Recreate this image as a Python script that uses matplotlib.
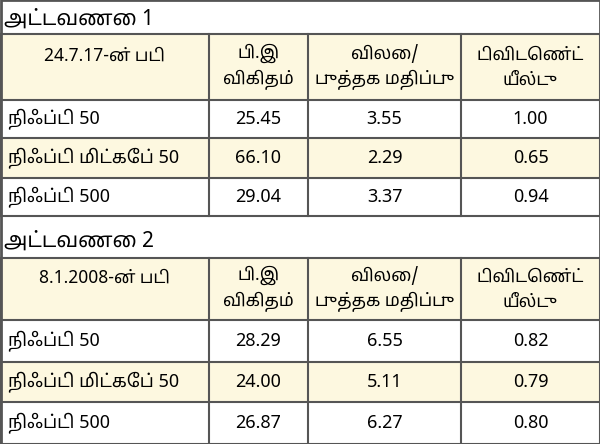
import matplotlib
matplotlib.use("Agg")
import matplotlib.pyplot as plt
from matplotlib.patches import Rectangle

plt.rcParams['font.family'] = ['Noto Sans Tamil', 'Lohit Tamil', 'Noto Sans', 'DejaVu Sans']

titles = ["அட்டவணை 1", "அட்டவணை 2"]
first_headers = ["24.7.17-ன் படி", "8.1.2008-ன் படி"]
col_headers = ["பி.இ\nவிகிதம்", "விலை/\nபுத்தக மதிப்பு", "டிவிடெண்ட்\nயீல்டு"]
rows = ["நிஃப்டி 50", "நிஃப்டி மிட்கேப் 50", "நிஃப்டி 500"]
pe_1 = ["25.45", "66.10", "29.04"]
pb_1 = ["3.55", "2.29", "3.37"]
dy_1 = ["1.00", "0.65", "0.94"]
pe_2 = ["28.29", "24.00", "26.87"]
pb_2 = ["6.55", "5.11", "6.27"]
dy_2 = ["0.82", "0.79", "0.80"]

W, H = 600, 444
fig = plt.figure(figsize=(6, 4.44), dpi=100)
ax = fig.add_axes([0, 0, 1, 1])
ax.set_xlim(0, W); ax.set_ylim(H, 0); ax.axis('off')

cols = [0, 209, 308, 461, 600]
yel = "#fdf8e0"
lc = "#555555"

def block(ty, hy0, hy1, rys, title, fh, pe, pb, dy):
    ax.text(4, ty, title, fontsize=15, fontweight='bold', va='center', ha='left')
    ax.add_patch(Rectangle((0, hy0), W, hy1 - hy0, fc=yel, ec='none'))
    ax.add_patch(Rectangle((0, rys[1]), W, rys[2] - rys[1], fc=yel, ec='none'))
    for y in [hy0, hy1] + rys[1:]:
        ax.plot([0, W], [y, y], color=lc, lw=1.5)
    for x in cols:
        ax.plot([x, x], [hy0, rys[-1]], color=lc, lw=1.5)
    hdrs = [fh] + col_headers
    for i, h in enumerate(hdrs):
        cx = (cols[i] + cols[i + 1]) / 2
        ax.text(cx, (hy0 + hy1) / 2 - (11 if i == 0 else 0), h, fontsize=12.5, fontweight='bold',
                ha='center', va='center', linespacing=1.5)
    for r in range(3):
        cy = (rys[r] + rys[r + 1]) / 2
        ax.text(8, cy, rows[r], fontsize=13, ha='left', va='center')
        for i, v in enumerate([pe[r], pb[r], dy[r]]):
            ax.text((cols[i + 1] + cols[i + 2]) / 2, cy, v, fontsize=13, ha='center', va='center')

block(19, 34, 100, [100, 138, 178, 216], titles[0], first_headers[0], pe_1, pb_1, dy_1)
block(241, 258, 320, [320, 362, 402, 444], titles[1], first_headers[1], pe_2, pb_2, dy_2)
ax.add_patch(Rectangle((0.5, 0.5), W - 1, H - 1, fc='none', ec=lc, lw=2))
fig.savefig("out.png", dpi=100)
